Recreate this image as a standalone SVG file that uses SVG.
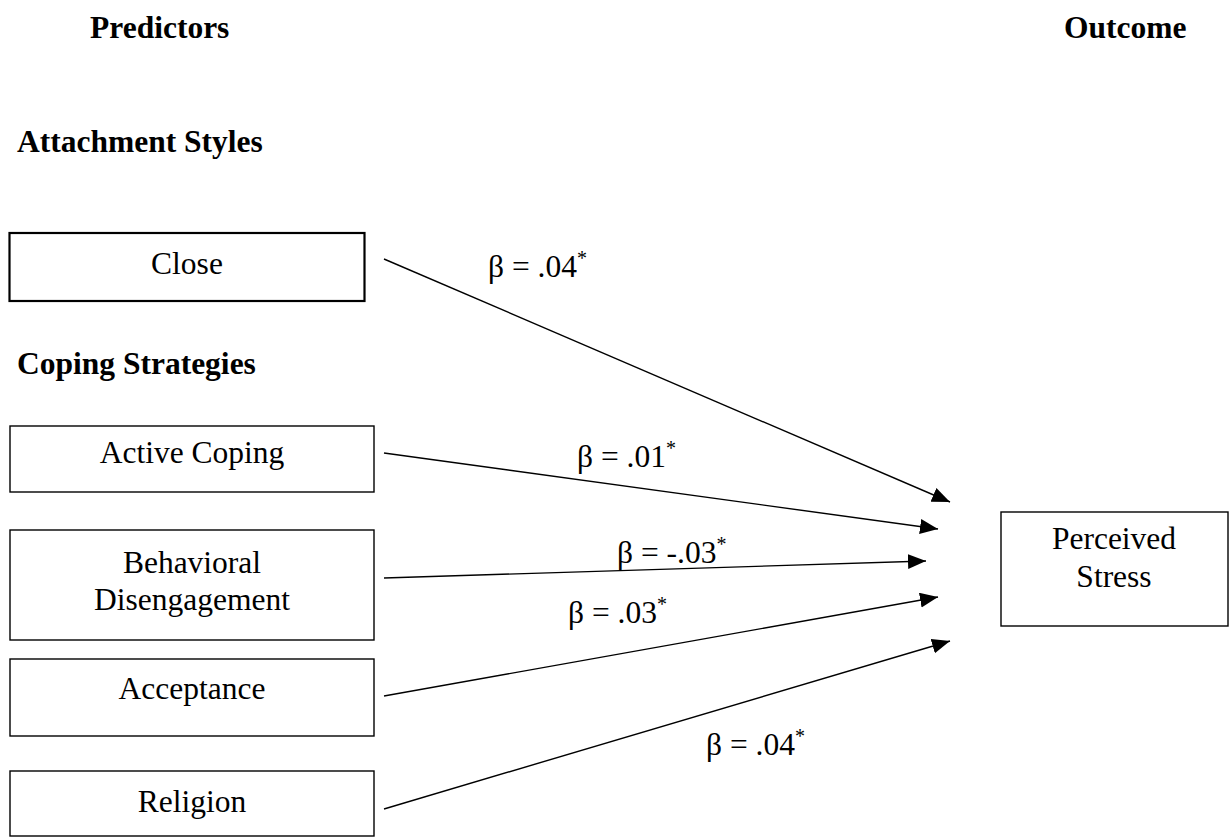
<svg xmlns="http://www.w3.org/2000/svg" width="1229" height="838" viewBox="0 0 1229 838">
<defs>
<marker id="arr" markerUnits="userSpaceOnUse" markerWidth="19" markerHeight="16" refX="18" refY="7.5" orient="auto" viewBox="0 0 19 16">
<path d="M0,0 L18,7.5 L0,15 z" fill="#000"/>
</marker>
<style>
text{font-family:"Liberation Serif","Times New Roman",serif;font-size:31.5px;fill:#000}
.h{font-weight:bold}
.c{text-anchor:middle}
.box{fill:#fff;stroke:#000;stroke-width:1.4}
.thick{stroke-width:2.2}
.edge{stroke:#000;stroke-width:1.4;fill:none;marker-end:url(#arr)}
.sup{font-size:20px}
</style>
</defs>
<rect width="1229" height="838" fill="#fff"/>
<g id="headers">
<text class="h" x="90" y="38">Predictors</text>
<text class="h" x="1064" y="38">Outcome</text>
<text class="h" x="17" y="152">Attachment Styles</text>
<text class="h" x="17" y="374">Coping Strategies</text>
</g>
<g id="close"><rect class="box thick" x="9.5" y="233" width="355" height="68"/><text class="c" x="187" y="274">Close</text></g>
<g id="active"><rect class="box" x="10" y="426" width="364" height="66"/><text class="c" x="192" y="463">Active Coping</text></g>
<g id="behavioral"><rect class="box" x="10" y="530" width="364" height="110"/><text class="c" x="192" y="573">Behavioral</text><text class="c" x="192" y="610">Disengagement</text></g>
<g id="acceptance"><rect class="box" x="10" y="659" width="364" height="77"/><text class="c" x="192" y="699">Acceptance</text></g>
<g id="religion"><rect class="box" x="10" y="771" width="364" height="65"/><text class="c" x="192" y="812">Religion</text></g>
<g id="stress"><rect class="box" x="1001" y="512" width="227" height="114"/><text class="c" x="1114" y="549">Perceived</text><text class="c" x="1114" y="587">Stress</text></g>
<g id="connectors">
<line class="edge" x1="384" y1="259" x2="950" y2="502"/>
<line class="edge" x1="384" y1="453" x2="938" y2="529"/>
<line class="edge" x1="384" y1="578" x2="926" y2="561"/>
<line class="edge" x1="384" y1="696" x2="938" y2="597"/>
<line class="edge" x1="384" y1="809" x2="950" y2="641"/>
</g>
<g id="labels">
<text x="488" y="277">β = .04<tspan class="sup" dy="-12">*</tspan></text>
<text x="577" y="467">β = .01<tspan class="sup" dy="-12">*</tspan></text>
<text x="617" y="563">β = -.03<tspan class="sup" dy="-12">*</tspan></text>
<text x="568" y="623">β = .03<tspan class="sup" dy="-12">*</tspan></text>
<text x="706" y="755">β = .04<tspan class="sup" dy="-12">*</tspan></text>
</g>
</svg>
